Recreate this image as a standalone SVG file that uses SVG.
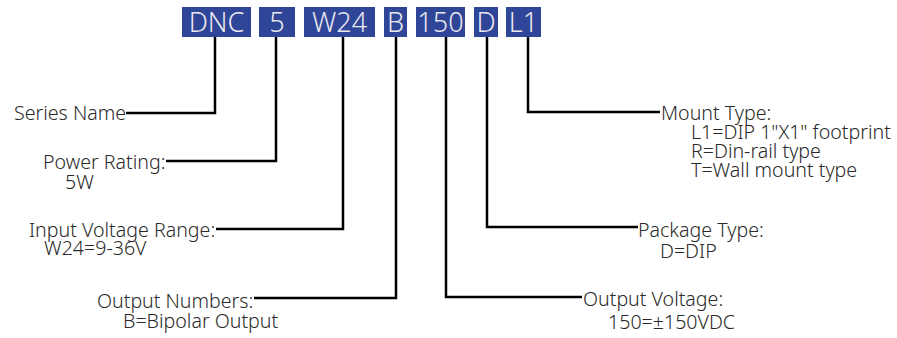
<svg xmlns="http://www.w3.org/2000/svg" width="897" height="338" viewBox="0 0 897 338">
<style>
.box{fill:#2f4597}
.bt{font-family:"Noto Sans",sans-serif;font-size:27px;fill:#e8e8f0;text-anchor:middle;font-weight:300}
.lb{font-family:"Noto Sans",sans-serif;font-size:19.6px;fill:#2a2a2a;font-weight:300}
.cn{fill:none;stroke:#000;stroke-width:2.5}
</style>
<rect width="897" height="338" fill="#fff"/>
<g id="code">
<g id="box-dnc"><rect class="box" x="182" y="7" width="69" height="30"/><text class="bt" x="216.5" y="32">DNC</text></g>
<g id="box-5"><rect class="box" x="259" y="7" width="36" height="30"/><text class="bt" x="277" y="32">5</text></g>
<g id="box-w24"><rect class="box" x="304" y="7" width="71" height="30"/><text class="bt" x="339.5" y="32">W24</text></g>
<g id="box-b"><rect class="box" x="384" y="7" width="23" height="30"/><text class="bt" x="395.5" y="32">B</text></g>
<g id="box-150"><rect class="box" x="416" y="7" width="49" height="30"/><text class="bt" x="440.5" y="32">150</text></g>
<g id="box-d"><rect class="box" x="474" y="7" width="24" height="30"/><text class="bt" x="486" y="32">D</text></g>
<g id="box-l1"><rect class="box" x="506" y="7" width="35" height="30"/><text class="bt" x="523.5" y="32">L1</text></g>
</g>
<g id="connectors">
<polyline class="cn" points="215,37 215,113 126,113"/>
<polyline class="cn" points="276,37 276,161 166,161"/>
<polyline class="cn" points="343,37 343,229 216,229"/>
<polyline class="cn" points="396,37 396,298 254,298"/>
<polyline class="cn" points="446,37 446,297 582,297"/>
<polyline class="cn" points="487,37 487,227 638,227"/>
<polyline class="cn" points="528,37 528,112 660,112"/>
</g>
<g id="series"><text class="lb" x="14" y="120">Series Name</text></g>
<g id="power"><text class="lb"><tspan x="43" y="169">Power Rating:</tspan><tspan x="65" y="189">5W</tspan></text></g>
<g id="input"><text class="lb"><tspan x="29" y="237">Input Voltage Range:</tspan><tspan x="44" y="255">W24=9-36V</tspan></text></g>
<g id="outnum"><text class="lb"><tspan x="97" y="308">Output Numbers:</tspan><tspan x="123" y="328">B=Bipolar Output</tspan></text></g>
<g id="outvolt"><text class="lb"><tspan x="583" y="306">Output Voltage:</tspan><tspan x="608" y="329">150=±150VDC</tspan></text></g>
<g id="package"><text class="lb"><tspan x="638" y="237">Package Type:</tspan><tspan x="660" y="258">D=DIP</tspan></text></g>
<g id="mount"><text class="lb"><tspan x="661" y="120">Mount Type:</tspan><tspan x="691" y="139">L1=DIP 1"X1" footprint</tspan><tspan x="691" y="158">R=Din-rail type</tspan><tspan x="691" y="177">T=Wall mount type</tspan></text></g>
</svg>
